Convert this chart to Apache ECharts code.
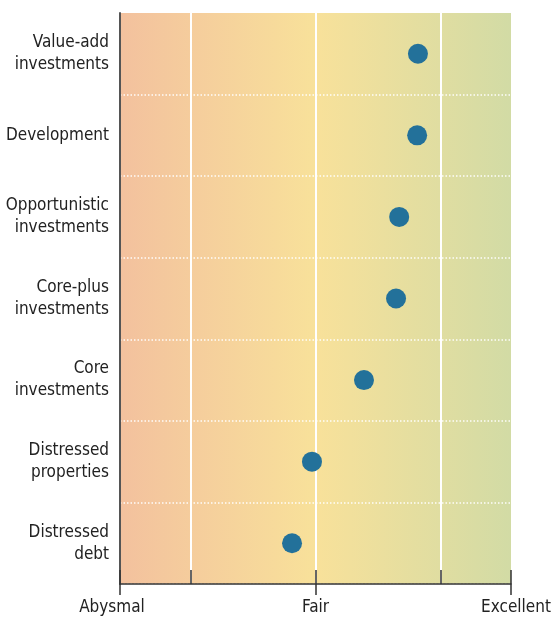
<!DOCTYPE html>
<html>
<head>
<meta charset="utf-8">
<script src="https://cdn.jsdelivr.net/npm/echarts@6/dist/echarts.min.js"></script>
<style>
  html, body { margin: 0; padding: 0; background: #fff; }
  #chart { width: 551px; height: 617px; }
</style>
</head>
<body>
<div id="chart"></div>
<script>
// ---- data ----
const categories = [
  'Value-add\ninvestments',
  'Development',
  'Opportunistic\ninvestments',
  'Core-plus\ninvestments',
  'Core\ninvestments',
  'Distressed\nproperties',
  'Distressed\ndebt',
]
const scores = [76.2, 76.0, 71.4, 70.6, 62.4, 49.1, 44.0]
const scaleLabels = { 0: 'Abysmal', 50: 'Fair', 100: 'Excellent' }
const majorTicks = [0, 50, 100]
const allTicks = [0, 18, 50, 82, 100]
const guideLines = [18, 50, 82]

const FONT = '"DejaVu Sans Condensed", "Liberation Sans Narrow", sans-serif'
const chart = echarts.init(document.getElementById('chart'))

// 轴两端标签稍微外移
const labelKey = { 0: 'lo', 50: 'mid', 100: 'hi' }

chart.setOption({
  animation: false,
  grid: {
    left: 120, right: 40, top: 13, bottom: 33,
    outerBoundsMode: 'none',
    containLabel: false,
    show: true,
    borderWidth: 0,
    backgroundColor: new echarts.graphic.LinearGradient(0, 0, 1, 0, [
      { offset: 0, color: '#f3c19e' },
      { offset: 0.5, color: '#f8e19a' },
      { offset: 1, color: '#d2dba5' },
    ]),
  },
  xAxis: [
    {
      type: 'value', min: 0, max: 100, position: 'bottom', z: 10,
      axisLine: { show: true, lineStyle: { color: '#333', width: 1.5 } },
      axisTick: { show: true, inside: true, length: 14, customValues: allTicks, lineStyle: { color: '#333', width: 1.5 } },
      axisLabel: { show: false },
      splitLine: { show: false },
    },
    {
      type: 'value', min: 0, max: 100, position: 'bottom', z: 10,
      axisLine: { show: false },
      axisTick: { show: true, inside: false, length: 11, customValues: majorTicks, lineStyle: { color: '#333', width: 1.5 } },
      axisLabel: {
        show: true, customValues: majorTicks, margin: 15,
        showMinLabel: true, showMaxLabel: true, hideOverlap: false,
        color: '#222', fontSize: 17, fontFamily: FONT,
        formatter: (v) => `{${labelKey[v]}|${scaleLabels[v] || ''}}`,
        rich: {
          lo: { fontSize: 17, fontFamily: FONT, color: '#222', padding: [0, 16, 0, 0] },
          mid: { fontSize: 17, fontFamily: FONT, color: '#222' },
          hi: { fontSize: 17, fontFamily: FONT, color: '#222', padding: [0, 0, 0, 10] },
        },
      },
      splitLine: { show: false },
    },
  ],
  yAxis: {
    type: 'category',
    data: categories,
    inverse: true,
    axisLine: { show: true, lineStyle: { color: '#555', width: 2 } },
    axisTick: { show: false },
    axisLabel: {
      color: '#222', fontSize: 17, fontFamily: FONT, margin: 11,
      lineHeight: 22, align: 'right', padding: [4, 0, 0, 0],
    },
    splitLine: {
      show: true,
      interval: (idx) => idx !== 0,
      lineStyle: { color: 'rgba(255,255,255,0.95)', type: [1.5, 2], width: 1.5 },
    },
  },
  series: [
    {
      type: 'scatter',
      xAxisIndex: 0,
      data: scores,
      symbolSize: 20,
      itemStyle: { color: '#23719a', opacity: 1 },
      markLine: {
        silent: true,
        symbol: 'none',
        label: { show: false },
        lineStyle: { color: '#ffffff', type: 'solid', width: 2 },
        data: guideLines.map((v) => ({ xAxis: v })),
      },
      z: 5,
    },
  ],
})
</script>
</body>
</html>
